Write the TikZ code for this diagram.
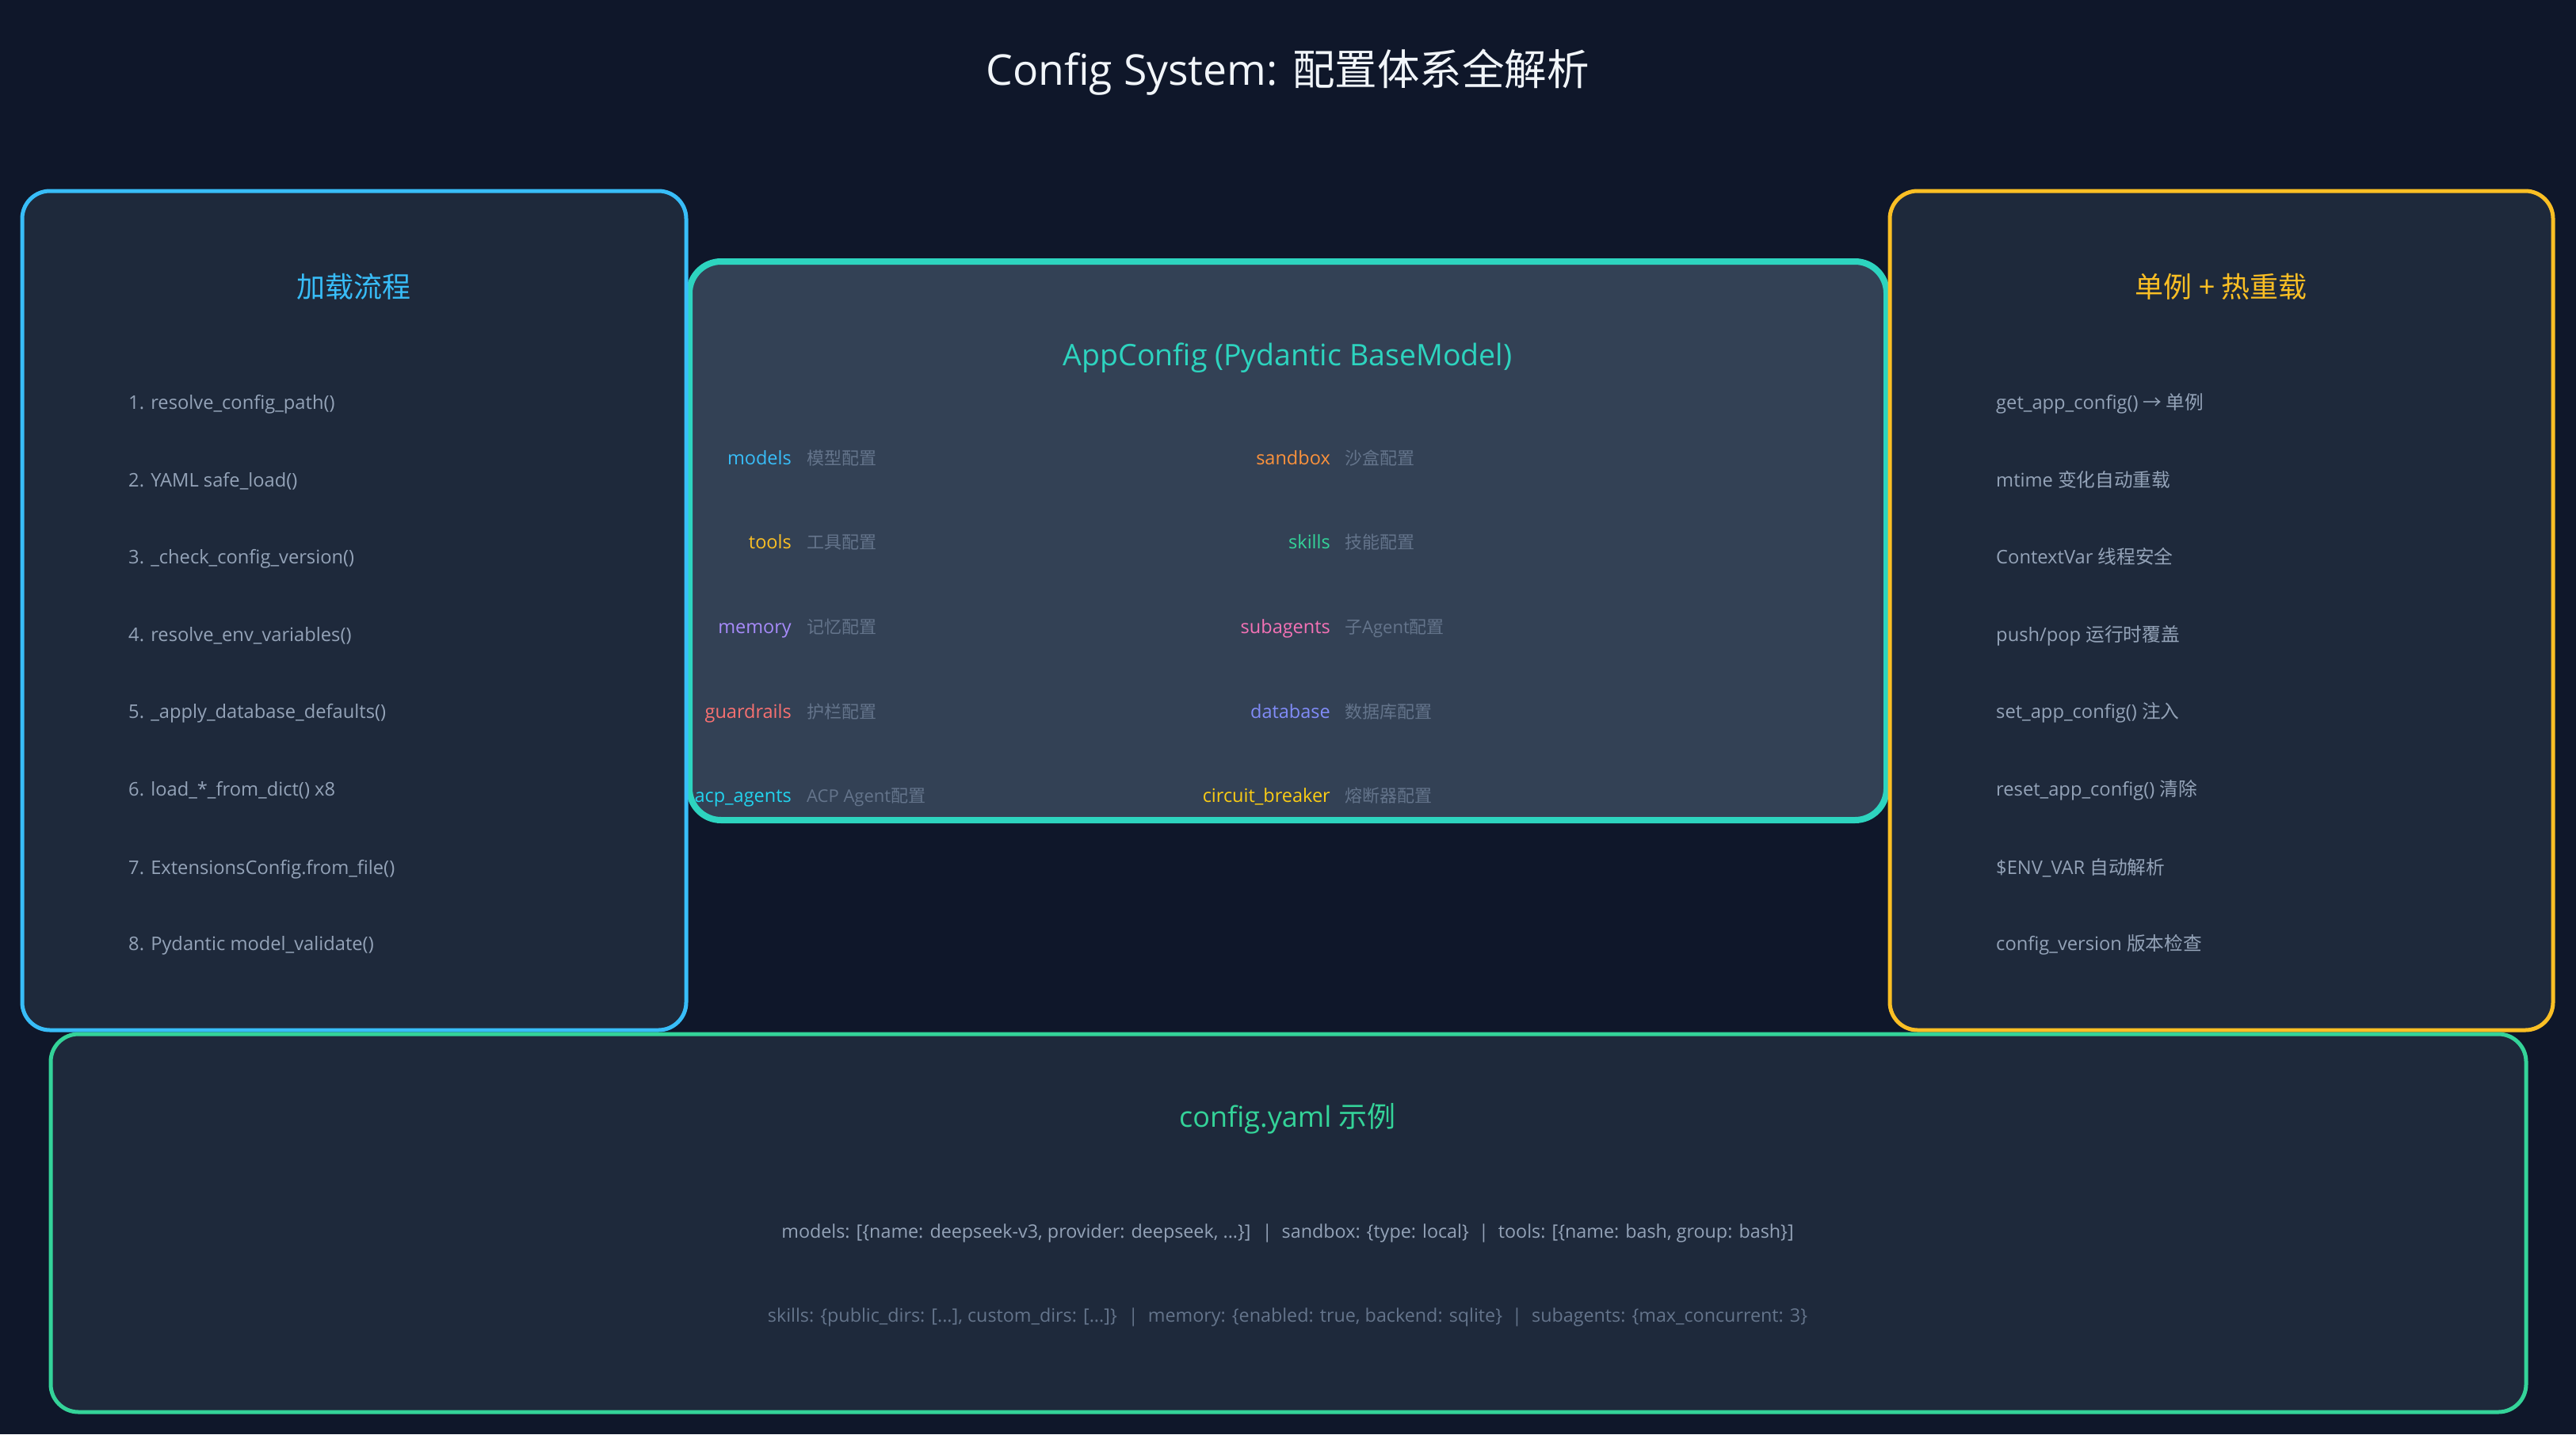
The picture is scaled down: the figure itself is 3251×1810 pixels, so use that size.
\documentclass[tikz,border=0pt]{standalone}
\usepackage{fontspec}
\setmainfont{Open Sans}
\newfontfamily\cjkfont{Noto Sans CJK SC}
\newcommand\zhtext[1]{{\cjkfont #1}}
\definecolor{bgc}{HTML}{0F172A}
\definecolor{panel}{HTML}{1E293B}
\definecolor{panelmid}{HTML}{334155}
\definecolor{skyc}{HTML}{38BDF8}
\definecolor{tealc}{HTML}{2DD4BF}
\definecolor{amberc}{HTML}{FBBF24}
\definecolor{emeraldc}{HTML}{34D399}
\definecolor{itemc}{HTML}{94A3B8}
\definecolor{dimc}{HTML}{64748B}
\definecolor{titlec}{HTML}{F1F5F9}
\definecolor{violetc}{HTML}{A78BFA}
\definecolor{redc}{HTML}{F87171}
\definecolor{cyanc}{HTML}{22D3EE}
\definecolor{orangec}{HTML}{FB923C}
\definecolor{pinkc}{HTML}{F472B6}
\definecolor{indigoc}{HTML}{818CF8}
\definecolor{yellowc}{HTML}{FACC15}
\begin{document}
\begin{tikzpicture}[x=1pt,y=-1pt,
  panelbox/.style={draw=#1, fill=panel, line width=5pt, rounded corners=35pt, inner sep=0pt},
  headtext/.style={font=\fontsize{36}{40}\selectfont, text=#1, inner sep=0pt},
  itemtext/.style={font=\fontsize{23.7}{28}\selectfont, text=itemc, anchor=west, inner sep=0pt, text height=17pt, text depth=5pt},
  keytext/.style={font=\fontsize{23.5}{28}\selectfont, text=#1, anchor=east, inner sep=0pt, text height=17pt, text depth=5pt},
  desctext/.style={font=\fontsize{22}{28}\selectfont, text=dimc, anchor=west, inner sep=0pt, text height=17pt, text depth=5pt},
  yamltext/.style={font=\fontsize{23.3}{26}\selectfont, text=#1, inner sep=0pt, text height=17pt, text depth=5pt}
]
\fill[bgc] (0,0) rectangle (3251,1810);
\useasboundingbox (0,0) rectangle (3251,1810);

\node[font=\fontsize{53.5}{60}\selectfont, text=titlec, inner sep=0pt] (title) at (1625,91) {Config System: \zhtext{配置体系全解析}};

% middle box
\node[draw=tealc, fill=panelmid, line width=8pt, rounded corners=40pt, inner sep=0pt,
  minimum width=1511pt, minimum height=705pt] (mid) at (1625.5,682.5) {};
% left box
\node[panelbox=skyc, minimum width=838pt, minimum height=1059pt] (left) at (447,770.5) {};
% right box
\node[panelbox=amberc, minimum width=837pt, minimum height=1059pt] (right) at (2803.5,770.5) {};
% bottom box
\node[panelbox=emeraldc, minimum width=3124pt, minimum height=477pt] (bottom) at (1626,1543.5) {};

% left content
\node[headtext=skyc] (lhead) at (446,362) {\zhtext{加载流程}};
\node[itemtext] (l1) at (162,510) {1. resolve\_config\_path()};
\node[itemtext] (l2) at (162,608) {2. YAML safe\_load()};
\node[itemtext] (l3) at (162,705) {3. \_check\_config\_version()};
\node[itemtext] (l4) at (162,803) {4. resolve\_env\_variables()};
\node[itemtext] (l5) at (162,900) {5. \_apply\_database\_defaults()};
\node[itemtext] (l6) at (162,998) {6. load\_*\_from\_dict() x8};
\node[itemtext] (l7) at (162,1097) {7. ExtensionsConfig.from\_file()};
\node[itemtext] (l8) at (162,1193) {8. Pydantic model\_validate()};

% right content
\node[headtext=amberc] (rhead) at (2803,362) {\zhtext{单例 + 热重载}};
\node[itemtext] (r1) at (2519,510) {get\_app\_config() \zhtext{→ 单例}};
\node[itemtext] (r2) at (2519,608) {mtime \zhtext{变化自动重载}};
\node[itemtext] (r3) at (2519,705) {ContextVar \zhtext{线程安全}};
\node[itemtext] (r4) at (2519,803) {push/pop \zhtext{运行时覆盖}};
\node[itemtext] (r5) at (2519,900) {set\_app\_config() \zhtext{注入}};
\node[itemtext] (r6) at (2519,998) {reset\_app\_config() \zhtext{清除}};
\node[itemtext] (r7) at (2519,1097) {\$ENV\_VAR \zhtext{自动解析}};
\node[itemtext] (r8) at (2519,1193) {config\_version \zhtext{版本检查}};

% middle content
\node[headtext=tealc, font=\fontsize{37.5}{42}\selectfont] (mhead) at (1625,452) {AppConfig (Pydantic BaseModel)};
\node[keytext=skyc] (k1) at (999,580) {models};
\node[desctext] (d1) at (1018,580) {\zhtext{模型配置}};
\node[keytext=amberc] (k2) at (999,686) {tools};
\node[desctext] (d2) at (1018,686) {\zhtext{工具配置}};
\node[keytext=violetc] (k3) at (999,793) {memory};
\node[desctext] (d3) at (1018,793) {\zhtext{记忆配置}};
\node[keytext=redc] (k4) at (999,900) {guardrails};
\node[desctext] (d4) at (1018,900) {\zhtext{护栏配置}};
\node[keytext=cyanc] (k5) at (999,1006) {acp\_agents};
\node[desctext] (d5) at (1018,1006) {ACP Agent\zhtext{配置}};
\node[keytext=orangec] (k6) at (1679,580) {sandbox};
\node[desctext] (d6) at (1697,580) {\zhtext{沙盒配置}};
\node[keytext=emeraldc] (k7) at (1679,686) {skills};
\node[desctext] (d7) at (1697,686) {\zhtext{技能配置}};
\node[keytext=pinkc] (k8) at (1679,793) {subagents};
\node[desctext] (d8) at (1697,793) {\zhtext{子}Agent\zhtext{配置}};
\node[keytext=indigoc] (k9) at (1679,900) {database};
\node[desctext] (d9) at (1697,900) {\zhtext{数据库配置}};
\node[keytext=yellowc] (k10) at (1679,1006) {circuit\_breaker};
\node[desctext] (d10) at (1697,1006) {\zhtext{熔断器配置}};

% bottom content
\node[headtext=emeraldc] (bhead) at (1625,1412) {config.yaml \zhtext{示例}};
\node[yamltext=itemc] (y1) at (1625,1556) {models: [\{name: deepseek-v3, provider: deepseek, ...\}] \ | \ sandbox: \{type: local\} \ | \ tools: [\{name: bash, group: bash\}]};
\node[yamltext=dimc] (y2) at (1625,1662) {skills: \{public\_dirs: [...], custom\_dirs: [...]\} \ | \ memory: \{enabled: true, backend: sqlite\} \ | \ subagents: \{max\_concurrent: 3\}};
\end{tikzpicture}
\end{document}
